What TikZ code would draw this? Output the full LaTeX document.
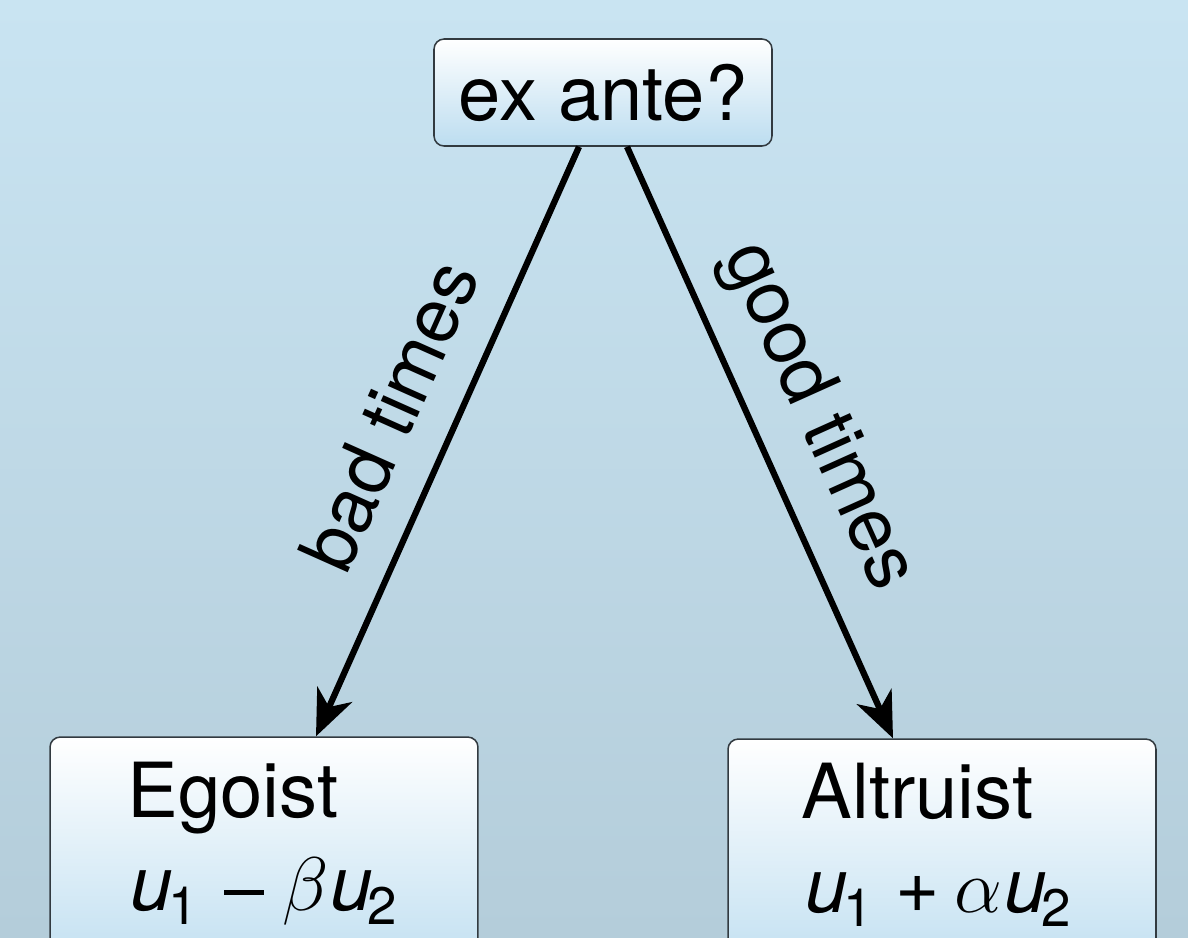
\documentclass[tikz,border=0pt]{standalone}
\usepackage{fontspec}
\setmainfont{TeX Gyre Heros}
\usetikzlibrary{arrows.meta,calc}
\newdimen\px \px=0.32737pt
\newcommand{\subdig}[1]{\raisebox{-4.9pt}{\fontsize{17.28}{20}\selectfont #1}}
\newcommand{\minusbar}{\rule[15\px]{40\px}{5\px}}
\definecolor{bgtop}{RGB}{201,228,242}
\definecolor{bgbot}{RGB}{180,205,218}
\definecolor{boxbot}{RGB}{188,221,240}
\definecolor{boxline}{RGB}{50,58,64}
\tikzset{
  box/.style={draw=boxline, line width=0.5pt, rounded corners=3.3pt, top color=white, bottom color=boxbot, inner sep=0pt},
  big/.style={font=\fontsize{24.88}{30}\selectfont},
  conn/.style={line width=2.05pt, -{Stealth[length=15pt,width=12.4pt,inset=4.5pt]}},
  lbl/.style={big, sloped, inner sep=0pt, midway}
}
\begin{document}
\begin{tikzpicture}[x=\px,y=-\px]
\useasboundingbox (0,0) rectangle (1188,937);
\clip (0,0) rectangle (1188,937);
\shade[top color=bgtop, bottom color=bgbot] (0,0) rectangle (1188,937);
\node[box, big, minimum width=110.65pt, minimum height=35.03pt] (top) at (603,92.5) {ex ante?};
\node[box, minimum width=140.1pt, minimum height=81.8pt] (ego) at (264,862) {};
\node[box, minimum width=140.1pt, minimum height=81.8pt] (alt) at (942,864) {};
\node[big, anchor=base west, inner sep=0pt] (egot) at (127,817) {Egoist};
\node[big, anchor=base west, inner sep=0pt] (egom) at (130,910)
  {\textit{u}\kern-4\px\subdig{1}\kern26\px\minusbar\kern18\px$\beta$\kern2\px\textit{u}\kern-5\px\subdig{2}};
\node[big, anchor=base west, inner sep=0pt] (altt) at (801,818) {Altruist};
\node[big, anchor=base west, inner sep=0pt] (altm) at (805,912)
  {\textit{u}\kern-4\px\subdig{1}\kern22\px+\kern15\px$\alpha$\kern2\px\textit{u}\kern-5\px\subdig{2}};
\draw[conn] ($(top.south)+(-24,0)$) -- node[lbl, above=10.8pt] {bad times} ($(ego.north)+(52,0)$);
\draw[conn] ($(top.south)+(24,0)$) -- node[lbl, above=7.9pt] {good times} ($(alt.north)+(-49,0)$);
\end{tikzpicture}
\end{document}
